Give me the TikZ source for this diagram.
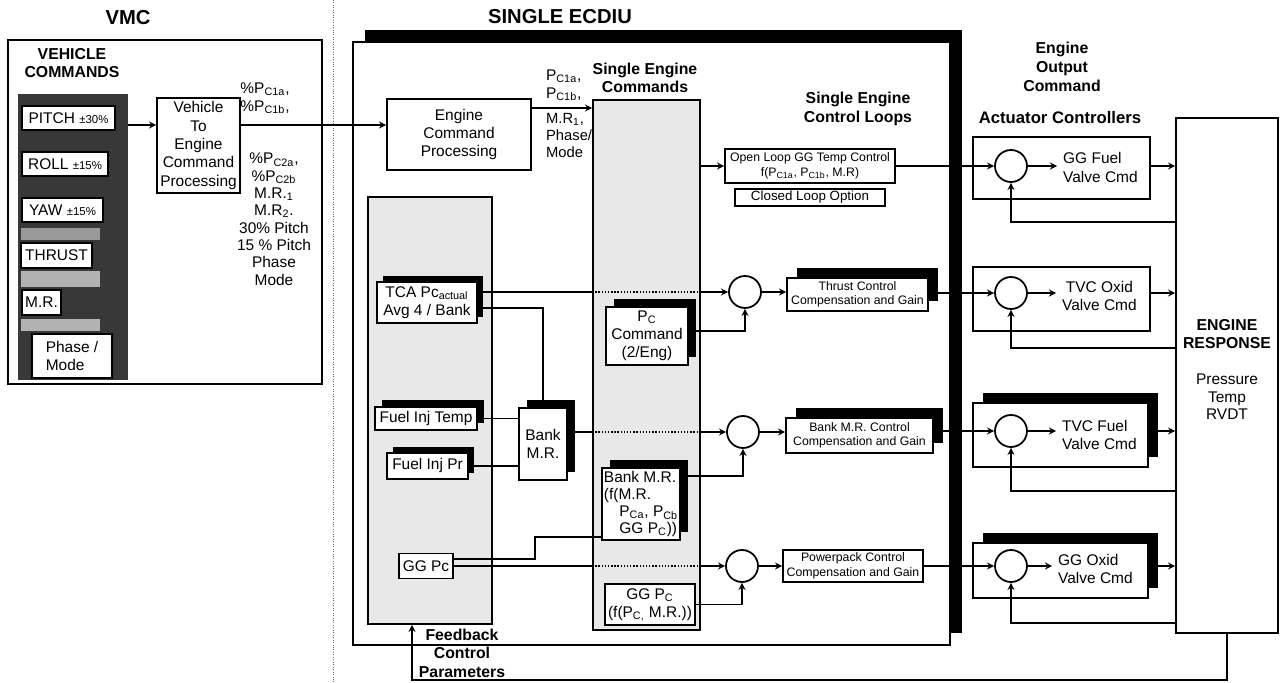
\documentclass[tikz,border=0pt]{standalone}
\usepackage{fontspec}
\setmainfont{Liberation Sans}
\usetikzlibrary{shadows}

\newcommand{\lil}[1]{{\fontsize{6.5}{7}\selectfont #1}}

\tikzset{
  box/.style={draw, line width=1pt, fill=white, align=center, inner sep=1pt},
  shbox/.style={box, drop shadow={shadow xshift=#1, shadow yshift=#1, fill=black, opacity=1}},
  shbox/.default=0.14cm,
  sumpt/.style={draw, circle, line width=1pt, minimum size=0.64cm, inner sep=0pt, fill=white},
  column/.style={draw, line width=1pt, fill=black!9},
  head/.style={font=\fontsize{9}{10.6}\selectfont\bfseries, align=center},
  bigtitle/.style={font=\fontsize{11.5}{13}\selectfont\bfseries},
  small/.style={font=\fontsize{7}{8.2}\selectfont},
  arr/.style={->, thick},
  thru/.style={thick, densely dotted},
}

\begin{document}
\begin{tikzpicture}[>=stealth, font=\fontsize{8.8}{10.4}\selectfont]
  \useasboundingbox (0,0) rectangle (25.62,-13.66);

  % VMC side
  \node[bigtitle] (vmct) at (2.56,-0.36) {VMC};
  \node[draw, line width=1pt, minimum width=6.28cm, minimum height=6.88cm] (vmc) at (3.30,-4.24) {};
  \node[head] (vcmd) at (1.44,-1.26) {VEHICLE\\COMMANDS};
  \node[fill=black!78, minimum width=2.2cm, minimum height=5.72cm, inner sep=0pt] (panel) at (1.46,-4.74) {};
  \fill[black!40] (0.42,-4.56) rectangle (2.00,-4.80);
  \fill[black!30] (0.42,-5.42) rectangle (2.00,-5.74);
  \fill[black!30] (0.42,-6.38) rectangle (2.00,-6.62);
  \node[box, minimum width=1.86cm, minimum height=0.48cm] (pitch) at (1.37,-2.36) {PITCH \lil{±30\%}};
  \node[box, minimum width=1.72cm, minimum height=0.48cm] (roll) at (1.30,-3.28) {ROLL \lil{±15\%}};
  \node[box, minimum width=1.62cm, minimum height=0.48cm] (yaw) at (1.25,-4.20) {YAW \lil{±15\%}};
  \node[box, minimum width=1.42cm, minimum height=0.50cm] (thrust) at (1.13,-5.11) {THRUST};
  \node[box, minimum width=0.78cm, minimum height=0.50cm] (mr) at (0.83,-6.05) {M.R.};
  \node[box, align=left, minimum width=1.60cm, minimum height=0.88cm] (phase) at (1.44,-7.12) {Phase /\\Mode};
  \node[box, minimum width=1.66cm, minimum height=1.90cm] (v2e) at (3.97,-2.91) {Vehicle\\To\\Engine\\Command\\Processing};
  \node[anchor=south, align=center] (v2ea) at (5.30,-2.40) {\%P\textsubscript{C1a},\\\%P\textsubscript{C1b},};
  \node[anchor=north, align=center, font=\fontsize{8.8}{9.85}\selectfont] (v2eb) at (5.48,-2.94)
    {\%P\textsubscript{C2a},\\\%P\textsubscript{C2b}\\M.R.\textsubscript{1}\\M.R\textsubscript{2}.\\30\% Pitch\\15 \% Pitch\\Phase\\Mode};

  \draw[densely dotted, black!60] (6.66,0) -- (6.66,-13.66);

  % single ECDIU
  \node[bigtitle] (ecdt) at (11.20,-0.34) {SINGLE ECDIU};
  \node[draw, line width=1pt, fill=white, minimum width=11.94cm, minimum height=12.06cm,
        drop shadow={shadow xshift=0.24cm, shadow yshift=0.24cm, fill=black, opacity=1}] (ecdiu) at (13.03,-6.87) {};
  \node[box, minimum width=2.88cm, minimum height=1.42cm] (ecp) at (9.18,-2.69) {Engine\\Command\\Processing};
  \node[head] (sect) at (12.90,-1.56) {Single Engine\\Commands};
  \node[column, minimum width=2.14cm, minimum height=10.60cm] (sec) at (12.93,-7.30) {};
  \node[column, minimum width=2.48cm, minimum height=8.54cm] (fcp) at (8.60,-8.21) {};
  \node[anchor=south west, align=left, inner sep=1pt] (ecpa) at (10.88,-2.06) {P\textsubscript{C1a},\\P\textsubscript{C1b},};
  \node[anchor=north west, align=left, inner sep=1pt, font=\fontsize{8.4}{9.6}\selectfont] (ecpb) at (10.88,-2.22) {M.R\textsubscript{1},\\Phase/\\Mode};
  \node[head] (fbt) at (9.24,-13.06) {Feedback\\Control\\Parameters};

  \node[shbox=0.12cm, minimum width=2.00cm, minimum height=0.82cm] (tca) at (8.54,-6.05) {TCA Pc\textsubscript{actual}\\Avg 4 / Bank};
  \node[shbox=0.14cm, minimum width=2.04cm, minimum height=0.46cm] (fit) at (8.52,-8.37) {Fuel Inj Temp};
  \node[shbox=0.12cm, minimum width=1.62cm, minimum height=0.52cm] (fip) at (8.55,-9.32) {Fuel Inj Pr};
  \node[box, minimum width=1.08cm, minimum height=0.50cm] (ggp) at (8.52,-11.32) {GG Pc};
  \node[shbox=0.16cm, minimum width=0.96cm, minimum height=1.44cm] (bmr) at (10.86,-8.88) {Bank\\M.R.};

  \node[shbox=0.16cm, minimum width=1.64cm, minimum height=1.16cm] (pcc) at (12.94,-6.72) {P\textsubscript{C}\\Command\\(2/Eng)};
  \node[shbox=0.16cm, align=left, font=\fontsize{8.8}{9.8}\selectfont, minimum width=1.56cm, minimum height=1.44cm] (bmf) at (12.82,-10.08)
    {Bank M.R.\\(f(M.R.\\\hspace*{1em}P\textsubscript{Ca}, P\textsubscript{Cb}\\\hspace*{1em}GG P\textsubscript{C}))};
  \node[box, line width=1.4pt, minimum width=1.80cm, minimum height=0.82cm] (ggf) at (13.00,-12.09) {GG P\textsubscript{C}\\(f(P\textsubscript{C,} M.R.))};

  \node[head] (cltitle) at (17.16,-2.18) {Single Engine\\Control Loops};
  \node[box, small, minimum width=3.40cm, minimum height=0.68cm] (olc) at (16.20,-3.32) {Open Loop GG Temp Control\\f(P\textsubscript{C1a}, P\textsubscript{C1b}, M.R)};
  \node[box, minimum width=3.00cm, minimum height=0.34cm, font=\fontsize{7.6}{8}\selectfont] (clo) at (16.20,-3.95) {Closed Loop Option};
  \node[sumpt] (ct) at (14.90,-5.84) {};
  \node[sumpt] (cb) at (14.86,-8.64) {};
  \node[sumpt] (cp) at (14.84,-11.32) {};
  \node[shbox=0.2cm, small, minimum width=2.82cm, minimum height=0.66cm] (tcg) at (17.15,-5.89) {Thrust Control\\Compensation and Gain};
  \node[shbox=0.2cm, small, minimum width=2.94cm, minimum height=0.70cm] (bcg) at (17.19,-8.71) {Bank M.R. Control\\Compensation and Gain};
  \node[box, small, minimum width=2.80cm, minimum height=0.64cm] (pcg) at (17.06,-11.32) {Powerpack Control\\Compensation and Gain};

  % actuators and engine
  \node[head, font=\fontsize{9}{10.8}\selectfont\bfseries] (eoc) at (21.24,-1.34) {Engine\\Output\\Command};
  \node[head, font=\fontsize{9.5}{11}\selectfont\bfseries] (actt) at (21.20,-2.36) {Actuator Controllers};
  \node[box, minimum width=3.54cm, minimum height=1.24cm] (a1) at (21.23,-3.36) {};
  \node[sumpt] (c1) at (20.22,-3.32) {};
  \node[anchor=west, align=left] (t1) at (21.14,-3.35) {GG Fuel\\Valve Cmd};
  \node[box, minimum width=3.54cm, minimum height=1.28cm] (a2) at (21.23,-5.98) {};
  \node[sumpt] (c2) at (20.22,-5.86) {};
  \node[anchor=west, align=center] (t2) at (21.12,-5.92) {TVC Oxid\\Valve Cmd};
  \node[shbox=0.2cm, minimum width=3.50cm, minimum height=1.28cm] (a3) at (21.21,-8.70) {};
  \node[sumpt] (c3) at (20.22,-8.62) {};
  \node[anchor=west, align=left] (t3) at (21.12,-8.70) {TVC Fuel\\Valve Cmd};
  \node[shbox=0.2cm, minimum width=3.50cm, minimum height=1.10cm] (a4) at (21.21,-11.41) {};
  \node[sumpt] (c4) at (20.22,-11.32) {};
  \node[anchor=west, align=left] (t4) at (21.04,-11.38) {GG Oxid\\Valve Cmd};
  \node[draw, line width=1pt, minimum width=2.04cm, minimum height=10.30cm] (er) at (24.54,-7.51) {};
  \node[head, font=\fontsize{9}{10.2}\selectfont\bfseries] (ert) at (24.54,-6.68) {ENGINE\\RESPONSE};
  \node[align=center, font=\fontsize{8.8}{10}\selectfont] (erp) at (24.54,-7.94) {Pressure\\Temp\\RVDT};

  \coordinate (cmdln) at (0,-2.50);
  \coordinate (ecpln) at (0,-2.16);
  \coordinate (jog) at (10.70,-10.74);
  \coordinate (fb1) at (0,-4.44);
  \coordinate (fb2) at (0,-6.96);
  \coordinate (fb3) at (0,-9.82);
  \coordinate (fb4) at (0,-12.46);
  \coordinate (fbk) at (8.24,-13.60);

  % connectors
  \draw[arr] (panel.east |- cmdln) -- (v2e.west |- cmdln);
  \draw[arr] (v2e.east |- cmdln) -- (ecp.west |- cmdln);
  \draw[arr] (ecp.east |- ecpln) -- (sec.west |- ecpln);
  \draw[arr] (sec.east |- olc.west) -- (olc.west);
  \draw[arr] (olc.east) -- (c1.west);

  \draw[thick] (tca.east |- ct) -- (sec.west |- ct);
  \draw[thru] (sec.west |- ct) -- (sec.east |- ct);
  \draw[arr] (sec.east |- ct) -- (ct.west);
  \draw[thick] ([yshift=-0.11cm]tca.east) -| (bmr.north);
  \draw[arr] ([yshift=0.1cm]pcc.east) -| (ct.south);
  \draw[arr] (ct.east) -- (ct.east -| tcg.west);
  \draw[arr] (tcg.east |- c2) -- (c2.west);

  \draw[thick] (fit.east) -- (fit.east -| bmr.west);
  \draw[thick] (fip.east) -- (fip.east -| bmr.west);
  \draw[thick] (bmr.east |- cb) -- (sec.west |- cb);
  \draw[thru] (sec.west |- cb) -- (sec.east |- cb);
  \draw[arr] (sec.east |- cb) -- (cb.west);
  \draw[arr] ([yshift=-0.18cm]bmf.north east) -| (cb.south);
  \draw[arr] (cb.east) -- (cb.east -| bcg.west);
  \draw[arr] (bcg.east |- c3) -- (c3.west);

  \draw[thick] ([yshift=0.14cm]ggp.east) -| (jog) -- (jog -| bmf.west);
  \draw[thick] (ggp.east) -- (sec.west |- ggp.east);
  \draw[thru] (sec.west |- ggp.east) -- (sec.east |- ggp.east);
  \draw[arr] (sec.east |- cp) -- (cp.west);
  \draw[arr] (ggf.east) -| (cp.south);
  \draw[arr] (cp.east) -- (pcg.west);
  \draw[arr] (pcg.east) -- (c4.west);

  \draw[arr] (c1.east) -- (c1.east -| t1.west);
  \draw[arr] (c2.east) -- (c2.east -| t2.west);
  \draw[arr] (c3.east) -- (c3.east -| t3.west);
  \draw[arr] (c4.east) -- (c4.east -| t4.west);
  \draw[arr] (a1.east |- c1) -- (er.west |- c1);
  \draw[arr] (a2.east |- c2) -- (er.west |- c2);
  \draw[arr] (a3.east |- c3) -- (er.west |- c3);
  \draw[arr] (a4.east |- c4) -- (er.west |- c4);
  \draw[arr] (er.west |- fb1) -| (c1.south);
  \draw[arr] (er.west |- fb2) -| (c2.south);
  \draw[arr] (er.west |- fb3) -| (c3.south);
  \draw[arr] (er.west |- fb4) -| (c4.south);
  \draw[arr] (er.south) |- (fbk) -- (fbk |- fcp.south);
\end{tikzpicture}
\end{document}
